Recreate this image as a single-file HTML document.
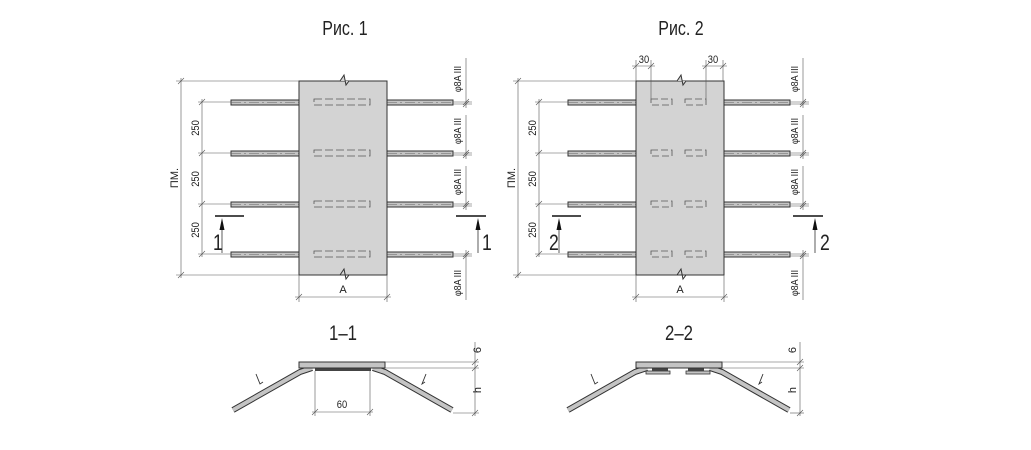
<!DOCTYPE html>
<html><head><meta charset="utf-8"><style>
html,body{margin:0;padding:0;background:#fff}
svg{display:block}
text{font-family:"Liberation Sans",sans-serif;fill:#222}
</style></head><body>
<svg width="1031" height="450" viewBox="0 0 1031 450" xmlns="http://www.w3.org/2000/svg">
<defs>
<g id="bars">
 <g fill="#c4c4c4" stroke="#333" stroke-width="1">
  <rect x="231" y="100" width="68" height="5"/><rect x="387" y="100" width="66" height="5"/>
  <rect x="231" y="151" width="68" height="5"/><rect x="387" y="151" width="66" height="5"/>
  <rect x="231" y="202" width="68" height="5"/><rect x="387" y="202" width="66" height="5"/>
  <rect x="231" y="252" width="68" height="5"/><rect x="387" y="252" width="66" height="5"/>
 </g>
 <g stroke="#666" stroke-width="0.6" stroke-dasharray="10,3,2,3">
  <line x1="231" y1="102.5" x2="299" y2="102.5"/><line x1="387" y1="102.5" x2="453" y2="102.5"/>
  <line x1="231" y1="153.5" x2="299" y2="153.5"/><line x1="387" y1="153.5" x2="453" y2="153.5"/>
  <line x1="231" y1="204.5" x2="299" y2="204.5"/><line x1="387" y1="204.5" x2="453" y2="204.5"/>
  <line x1="231" y1="254.5" x2="299" y2="254.5"/><line x1="387" y1="254.5" x2="453" y2="254.5"/>
 </g>
 <rect x="299" y="81" width="88" height="194" fill="#d3d3d3" stroke="#333" stroke-width="1"/>
 <polyline points="299,81 340,81 344,75 346,85 349,81 387,81" fill="#d3d3d3" stroke="#333" stroke-width="1"/>
 <polyline points="299,275 340,275 344,269 346,279 349,275 387,275" fill="none" stroke="#333" stroke-width="1"/>
 <g stroke="#555" stroke-width="0.6" fill="none">
  <line x1="176" y1="81" x2="299" y2="81"/><line x1="176" y1="275" x2="299" y2="275"/>
  <line x1="181" y1="78" x2="181" y2="278"/>
  <line x1="198" y1="102" x2="231" y2="102"/><line x1="198" y1="153" x2="231" y2="153"/>
  <line x1="198" y1="204" x2="231" y2="204"/><line x1="198" y1="254" x2="231" y2="254"/>
  <line x1="202" y1="99" x2="202" y2="257"/>
  <path d="M178,84l6,-6M178,278l6,-6M199,105l6,-6M199,156l6,-6M199,207l6,-6M199,257l6,-6"/>
  <line x1="453" y1="102" x2="472" y2="102"/><line x1="453" y1="104" x2="472" y2="104"/>
  <line x1="453" y1="153" x2="472" y2="153"/><line x1="453" y1="155" x2="472" y2="155"/>
  <line x1="453" y1="204" x2="472" y2="204"/><line x1="453" y1="206" x2="472" y2="206"/>
  <line x1="453" y1="254" x2="472" y2="254"/><line x1="453" y1="256" x2="472" y2="256"/>
  <line x1="466" y1="58" x2="466" y2="108"/><line x1="466" y1="115" x2="466" y2="159"/>
  <line x1="466" y1="166" x2="466" y2="210"/><line x1="466" y1="250" x2="466" y2="300"/>
  <path d="M463,105l6,-6M463,107l6,-6M463,156l6,-6M463,158l6,-6M463,207l6,-6M463,209l6,-6M463,257l6,-6M463,259l6,-6"/>
  <line x1="299" y1="275" x2="299" y2="302"/><line x1="387" y1="275" x2="387" y2="302"/>
  <line x1="295" y1="297" x2="391" y2="297"/>
  <path d="M296,300l6,-6M384,300l6,-6"/>
 </g>
 <g font-size="11" text-anchor="middle">
  <text transform="translate(178,178) rotate(-90)">ПМ.</text>
  <text transform="translate(199,128) rotate(-90) scale(0.85,1)">250</text>
  <text transform="translate(199,179) rotate(-90) scale(0.85,1)">250</text>
  <text transform="translate(199,230) rotate(-90) scale(0.85,1)">250</text>
  <text x="343" y="293">A</text>
 </g>
 <g font-size="10" text-anchor="middle">
  <text transform="translate(461,79) rotate(-90) scale(0.9,1)">φ8A III</text>
  <text transform="translate(461,131) rotate(-90) scale(0.9,1)">φ8A III</text>
  <text transform="translate(461,182) rotate(-90) scale(0.9,1)">φ8A III</text>
  <text transform="translate(461,283) rotate(-90) scale(0.9,1)">φ8A III</text>
 </g>
</g>
<g id="sect">
 <g stroke="#111" stroke-width="1.4"><line x1="215" y1="216" x2="244" y2="216"/><line x1="456" y1="216" x2="486" y2="216"/></g>
 <g stroke="#333" stroke-width="0.8"><line x1="222" y1="228" x2="222" y2="253"/><line x1="478" y1="228" x2="478" y2="253"/></g>
 <path d="M222,218l-2.5,12h5zM478,218l-2.5,12h5z" fill="#111"/>
</g>
<g id="bentL">
 <polyline points="233,410 300,372 312,368" fill="none" stroke="#333" stroke-width="6" stroke-linejoin="round"/>
 <polyline points="233,410 300,372 312,368" fill="none" stroke="#c4c4c4" stroke-width="4" stroke-linejoin="round"/>
</g>
</defs>

<text transform="translate(345,35) scale(0.8,1)" font-size="20" text-anchor="middle">Рис. 1</text>
<text transform="translate(681,35) scale(0.8,1)" font-size="20" text-anchor="middle">Рис. 2</text>

<use href="#bars"/>
<g fill="none" stroke="#555" stroke-width="0.8" stroke-dasharray="8,3">
 <rect x="314" y="99" width="56" height="6"/><rect x="314" y="150" width="56" height="6"/>
 <rect x="314" y="201" width="56" height="6"/><rect x="314" y="251" width="56" height="6"/>
</g>
<use href="#sect"/>
<text transform="translate(213,250) scale(0.8,1)" font-size="22">1</text>
<text transform="translate(482,250) scale(0.8,1)" font-size="22">1</text>

<g transform="translate(337,0)"><use href="#bars"/><use href="#sect"/></g>
<g fill="none" stroke="#555" stroke-width="0.8" stroke-dasharray="7,3">
 <rect x="651" y="99" width="21" height="6"/><rect x="685" y="99" width="21" height="6"/>
 <rect x="651" y="150" width="21" height="6"/><rect x="685" y="150" width="21" height="6"/>
 <rect x="651" y="201" width="21" height="6"/><rect x="685" y="201" width="21" height="6"/>
 <rect x="651" y="251" width="21" height="6"/><rect x="685" y="251" width="21" height="6"/>
</g>
<g stroke="#555" stroke-width="0.6" fill="none">
 <line x1="636" y1="60" x2="636" y2="81"/><line x1="651" y1="60" x2="651" y2="99"/>
 <line x1="706" y1="60" x2="706" y2="99"/><line x1="723" y1="60" x2="723" y2="81"/>
 <line x1="632" y1="66" x2="655" y2="66"/><line x1="702" y1="66" x2="727" y2="66"/>
 <path d="M633,69l6,-6M648,69l6,-6M703,69l6,-6M720,69l6,-6"/>
</g>
<text transform="translate(644,63) scale(0.85,1)" font-size="11" text-anchor="middle">30</text>
<text transform="translate(713,63) scale(0.85,1)" font-size="11" text-anchor="middle">30</text>
<text transform="translate(549,250) scale(0.8,1)" font-size="22">2</text>
<text transform="translate(820,250) scale(0.8,1)" font-size="22">2</text>

<text transform="translate(343,340) scale(0.8,1)" font-size="21" text-anchor="middle">1–1</text>
<use href="#bentL"/>
<use href="#bentL" transform="translate(685,0) scale(-1,1)"/>
<rect x="315" y="368" width="56" height="3" fill="#444"/>
<rect x="299" y="362" width="86" height="6" fill="#c4c4c4" stroke="#333" stroke-width="1"/>
<g stroke="#555" stroke-width="0.6" fill="none">
 <line x1="385" y1="362" x2="479" y2="362"/><line x1="385" y1="368" x2="479" y2="368"/>
 <line x1="453" y1="413" x2="479" y2="413"/>
 <line x1="475" y1="342" x2="475" y2="416"/>
 <path d="M472,365l6,-6M472,371l6,-6M472,416l6,-6"/>
 <line x1="315" y1="371" x2="315" y2="416"/><line x1="370" y1="371" x2="370" y2="416"/>
 <line x1="312" y1="412" x2="373" y2="412"/>
 <path d="M312,415l6,-6M367,415l6,-6"/>
</g>
<text transform="translate(342,408) scale(0.85,1)" font-size="11" text-anchor="middle">60</text>
<text transform="translate(481,350) rotate(-90)" font-size="11" text-anchor="middle">6</text>
<text transform="translate(481,390) rotate(-90)" font-size="11" text-anchor="middle">h</text>
<path d="M256,374l4,10l3,-2M426,374l-4,10l3,-2" stroke="#333" stroke-width="0.9" fill="none"/>

<text transform="translate(679,340) scale(0.8,1)" font-size="21" text-anchor="middle">2–2</text>
<g transform="translate(335,0)"><use href="#bentL"/></g>
<use href="#bentL" transform="translate(1022,0) scale(-1,1)"/>
<rect x="646" y="371" width="24" height="3" fill="#c4c4c4" stroke="#333" stroke-width="0.8"/>
<rect x="686" y="371" width="24" height="3" fill="#c4c4c4" stroke="#333" stroke-width="0.8"/>
<rect x="652" y="368" width="16" height="3" fill="#444"/>
<rect x="688" y="368" width="16" height="3" fill="#444"/>
<rect x="636" y="362" width="86" height="6" fill="#c4c4c4" stroke="#333" stroke-width="1"/>
<g stroke="#555" stroke-width="0.6" fill="none">
 <line x1="722" y1="362" x2="804" y2="362"/><line x1="722" y1="368" x2="804" y2="368"/>
 <line x1="790" y1="413" x2="804" y2="413"/>
 <line x1="800" y1="342" x2="800" y2="416"/>
 <path d="M797,365l6,-6M797,371l6,-6M797,416l6,-6"/>
</g>
<text transform="translate(796,350) rotate(-90)" font-size="11" text-anchor="middle">6</text>
<text transform="translate(796,390) rotate(-90)" font-size="11" text-anchor="middle">h</text>
<path d="M591,374l4,10l3,-2M763,374l-4,10l3,-2" stroke="#333" stroke-width="0.9" fill="none"/>
</svg>
</body></html>
